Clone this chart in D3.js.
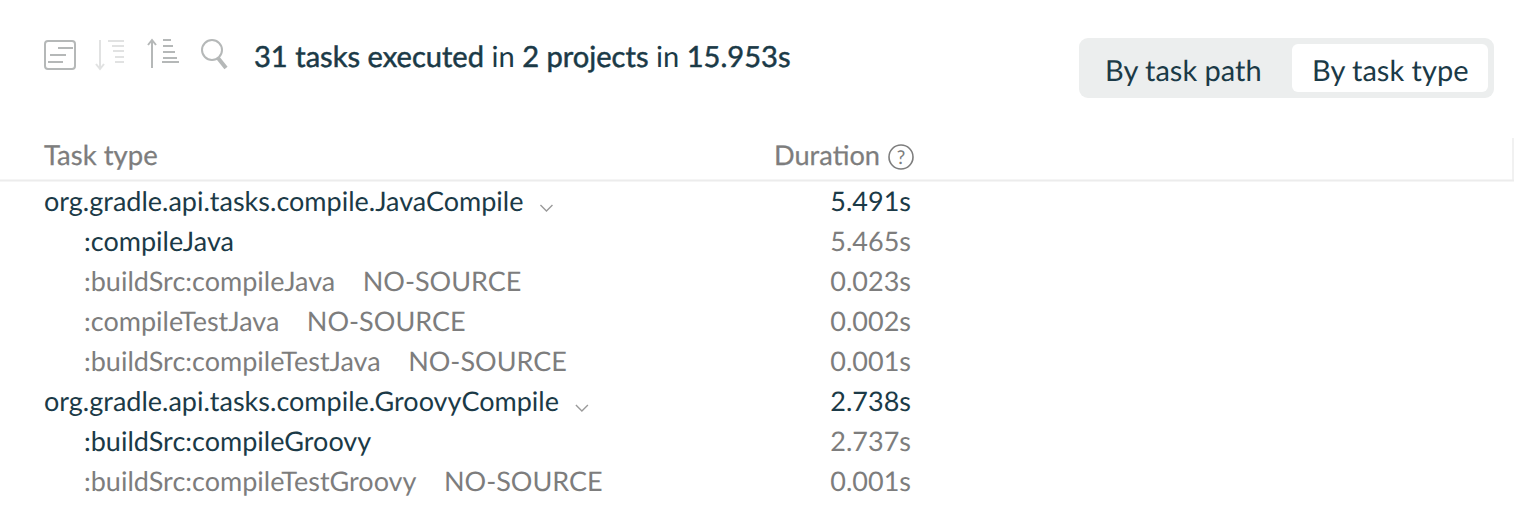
<!DOCTYPE html>
<html>
<head>
<meta charset="utf-8">
<script src="https://cdn.jsdelivr.net/npm/d3@7"></script>
<style>
  html, body { margin: 0; padding: 0; background: #fff; }
  svg { display: block; }
  text { font-family: Lato, sans-serif; text-rendering: geometricPrecision; font-variant-ligatures: common-ligatures; }
</style>
</head>
<body>
<div class="svg-target"></div>
<script>
const w = 1514;
const h = 508;

const summary = [
    { text: '31 tasks executed', bold: true },
    { text: ' in ', bold: false },
    { text: '2 projects', bold: true },
    { text: ' in ', bold: false },
    { text: '15.953s', bold: true }
];
const tabs = ['By task path', 'By task type'];
const columns = ['Task type', 'Duration'];

const taskNames = [
    'org.gradle.api.tasks.compile.JavaCompile',
    ':compileJava',
    ':buildSrc:compileJava',
    ':compileTestJava',
    ':buildSrc:compileTestJava',
    'org.gradle.api.tasks.compile.GroovyCompile',
    ':buildSrc:compileGroovy',
    ':buildSrc:compileTestGroovy'
];
const durations = [5.491, 5.465, 0.023, 0.002, 0.001, 2.738, 2.737, 0.001];
const isGroup = [true, false, false, false, false, true, false, false];
const noSource = [false, false, true, true, true, false, false, true];

const dark = '#1b3a47';
const grey = '#7d7d7d';
const fontSize = 27;
const topSize = 29;

const svg = d3.select('.svg-target')
    .append('svg')
    .attr('width', w)
    .attr('height', h);

// Toolbar icons
const icons = svg.append('g')
    .attr('fill', 'none')
    .attr('stroke', '#b5b8b8')
    .attr('stroke-width', 2);

icons.append('rect')
    .attr('x', 45).attr('y', 41)
    .attr('width', 30).attr('height', 28)
    .attr('rx', 3);
icons.append('path').attr('d', 'M58 48H73M50 55H66M48 62H63');

const descIcon = icons.append('g').attr('opacity', 0.4);
descIcon.append('path').attr('d', 'M100 40V69M96 64L100 69L104 64');
descIcon.append('path')
    .attr('d', 'M108 41H124M112 46H124M113 51H124M115 57H124M115 62H124');

const ascIcon = icons.append('g');
ascIcon.append('path').attr('d', 'M152 68V40M148 45L152 40L156 45');
ascIcon.append('path').attr('d', 'M163 40H171M163 46H173M163 52H175M163 58H177M162 62H179');

icons.append('circle').attr('cx', 212).attr('cy', 50).attr('r', 10);
icons.append('path')
    .attr('d', 'M218 58L226 68')
    .attr('stroke-width', 4);

// Summary line
const title = svg.append('text')
    .attr('x', 254)
    .attr('y', 67)
    .attr('font-size', 29.1)
    .attr('fill', dark);

title.selectAll('tspan')
    .data(summary)
    .enter()
    .append('tspan')
        .attr('stroke', d => d.bold ? dark : 'none')
        .attr('stroke-width', 0.5)
        .style('white-space', 'pre')
        .text(d => d.text);

// Tab toggle
svg.append('rect')
    .attr('x', 1079).attr('y', 38)
    .attr('width', 415).attr('height', 60)
    .attr('rx', 9)
    .attr('fill', '#eceeee');
svg.append('rect')
    .attr('x', 1292).attr('y', 44)
    .attr('width', 196).attr('height', 48)
    .attr('rx', 6)
    .attr('fill', '#fff');

svg.selectAll('.tab')
    .data(tabs)
    .enter()
    .append('text')
        .attr('class', 'tab')
        .attr('x', (d, i) => i === 0 ? 1105 : 1312)
        .attr('y', 81)
        .attr('font-size', topSize)
        .attr('fill', dark)
        .text(d => d);

// Table header
svg.append('text')
    .attr('x', 44).attr('y', 165)
    .attr('font-size', 27.5)
    .attr('fill', grey)
    .attr('stroke', grey)
    .attr('stroke-width', 0.25)
    .text(columns[0]);

svg.append('text')
    .attr('x', 774).attr('y', 165)
    .attr('font-size', 27.2)
    .attr('fill', grey)
    .attr('stroke', grey)
    .attr('stroke-width', 0.25)
    .text(columns[1]);

svg.append('circle')
    .attr('cx', 901).attr('cy', 157).attr('r', 12)
    .attr('fill', 'none')
    .attr('stroke', grey)
    .attr('stroke-width', 1.6);
svg.append('text')
    .attr('x', 901).attr('y', 164)
    .attr('text-anchor', 'middle')
    .attr('font-size', 19)
    .attr('fill', grey)
    .text('?');

svg.append('line')
    .attr('x1', 0).attr('x2', w)
    .attr('y1', 180.5).attr('y2', 180.5)
    .attr('stroke', '#ececec')
    .attr('stroke-width', 2);
svg.append('line')
    .attr('x1', 1513).attr('x2', 1513)
    .attr('y1', 138).attr('y2', 180)
    .attr('stroke', '#ececec')
    .attr('stroke-width', 1.5);

// Rows
const yScale = d3.scaleBand()
    .domain(taskNames)
    .range([182, 502]);

const rows = svg.selectAll('.row')
    .data(taskNames)
    .enter()
    .append('g')
        .attr('class', 'row')
        .attr('transform', d => `translate(0, ${yScale(d) + 29})`);

const rowColor = i => (isGroup[i] || i === 1 || i === 6) ? dark : grey;

const names = rows.append('text')
    .attr('x', (d, i) => isGroup[i] ? 44 : 84)
    .attr('font-size', fontSize)
    .attr('fill', (d, i) => rowColor(i))
    .text(d => d);

rows.append('text')
    .attr('x', 911)
    .attr('text-anchor', 'end')
    .attr('font-size', fontSize)
    .attr('fill', (d, i) => isGroup[i] ? dark : grey)
    .text((d, i) => d3.format('.3f')(durations[i]) + 's');

// NO-SOURCE tags and group chevrons sit after the measured label
names.each(function(d, i) {
    const end = (isGroup[i] ? 44 : 84) + this.getComputedTextLength();
    const row = d3.select(this.parentNode);
    if (noSource[i]) {
        row.append('text')
            .attr('x', end + 27.5)
            .attr('font-size', fontSize)
            .attr('fill', grey)
            .text('NO-SOURCE');
    }
    if (isGroup[i]) {
        row.append('path')
            .attr('d', `M${end + 17} -6L${end + 23} 0L${end + 29} -6`)
            .attr('fill', 'none')
            .attr('stroke', '#9a9a9a')
            .attr('stroke-width', 1.4);
    }
});
</script>
</body>
</html>
